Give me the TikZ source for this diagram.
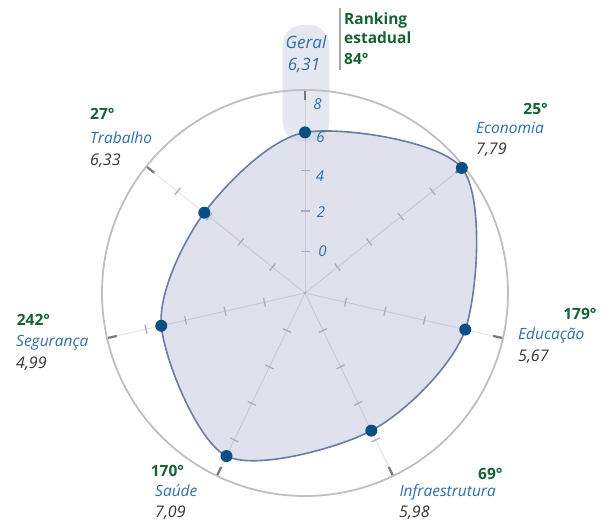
\documentclass[tikz,border=0pt]{standalone}
\usepackage{fontspec}
\setmainfont{Open Sans}
\definecolor{catblue}{RGB}{47,110,168}
\definecolor{valgrey}{RGB}{51,51,51}
\definecolor{rankgreen}{RGB}{22,98,52}
\definecolor{dotblue}{RGB}{10,79,134}
\definecolor{areafill}{RGB}{223,225,237}
\definecolor{areadraw}{RGB}{105,124,163}
\definecolor{markblue}{RGB}{165,172,200}
\definecolor{boxfill}{RGB}{205,209,227}
\definecolor{bargrey}{RGB}{160,172,160}
\begin{document}
\begin{tikzpicture}[x=1pt,y=1pt]
    \tikzstyle{every node}+=[inner sep=0pt]
    \tikzstyle{cat}=[font=\fontsize{15.5}{18}\selectfont\itshape, text=catblue, anchor=base west]
    \tikzstyle{val}=[font=\fontsize{16}{18}\selectfont\itshape, text=valgrey, anchor=base west]
    \tikzstyle{rank}=[font=\fontsize{15.5}{18}\selectfont\bfseries, text=rankgreen, anchor=base west]
    \tikzstyle{scalelbl}=[font=\fontsize{15}{18}\selectfont\itshape, text=catblue]
    \tikzstyle{dot}=[circle, fill=dotblue, minimum size=12pt]
    \useasboundingbox (-305,-229) rectangle (305,293);
    \coordinate (o) at (0,0);
    % data points
    \coordinate (geral) at (90:160.6);
    \coordinate (econ) at (38.571:200.6);
    \coordinate (educ) at (-12.857:164.4);
    \coordinate (infra) at (-64.286:152.8);
    \coordinate (saude) at (-115.714:181);
    \coordinate (seg) at (-167.143:147.4);
    \coordinate (trab) at (141.429:128.8);
    \fill [areafill] plot [smooth cycle] coordinates {(geral) (econ) (educ) (infra) (saude) (seg) (trab)};
    \fill [boxfill, opacity=0.5, rounded corners=20] (-22.3,151) rectangle (24.3,268);
    \foreach \a [count=\i] in {90,38.571,-12.857,-64.286,-115.714,-167.143,141.429} {
        \coordinate (ax\i) at (\a:203);
        \draw [black, opacity=0.1, line width=1] (o) -- (ax\i);
        \foreach \r in {41.6,82,122.5,163}
            \draw [markblue, line width=1.3, rotate=\a] (\r,-4.5) -- (\r,4.5);
        \draw [black!53, line width=2.2, rotate=\a] (193,0) -- (203,0);
    }
    \draw [black!25, line width=1.8] (o) circle (203);
    \draw [areadraw, line width=1.6] plot [smooth cycle] coordinates {(geral) (econ) (educ) (infra) (saude) (seg) (trab)};
    \node [dot] (d1) at (geral) {};
    \node [dot] (d2) at (econ) {};
    \node [dot] (d3) at (educ) {};
    \node [dot] (d4) at (infra) {};
    \node [dot] (d5) at (saude) {};
    \node [dot] (d6) at (seg) {};
    \node [dot] (d7) at (trab) {};
    % scale
    \node [scalelbl] (s8) at (12.5,189.3) {8};
    \node [scalelbl] (s6) at (15.5,156) {6};
    \node [scalelbl] (s4) at (15,116.7) {4};
    \node [scalelbl] (s2) at (16,80.8) {2};
    \node [scalelbl] (s0) at (17.5,41.8) {0};
    % geral
    \node [cat, anchor=base, font=\fontsize{17}{18}\selectfont\itshape] (geralname) at (1,244.7) {Geral};
    \node [cat, anchor=base, font=\fontsize{17}{18}\selectfont\itshape] (geralval) at (-1,222.3) {6,31};
    \coordinate (bar1) at (35,285);
    \coordinate (bar2) at (35,223);
    \draw [bargrey, line width=1.5] (bar1) -- (bar2);
    \node [rank] (rk1) at (39,268) {Ranking};
    \node [rank] (rk2) at (39,249.7) {estadual};
    \node [rank] (rk3) at (39,228) {84°};
    % economia
    \node [rank, anchor=base east] (econrank) at (243,178.3) {25°};
    \node [cat] (econname) at (171,159) {Economia};
    \node [val] (econval) at (171,138) {7,79};
    % trabalho
    \node [rank] (trabrank) at (-215,173.7) {27°};
    \node [cat] (trabname) at (-215,149.7) {Trabalho};
    \node [val] (trabval) at (-215,127) {6,33};
    % seguranca
    \node [rank] (segrank) at (-288.3,-32) {242°};
    \node [cat] (segname) at (-289,-53.7) {Segurança};
    \node [val] (segval) at (-289,-75) {4,99};
    % educacao
    \node [rank, anchor=base east] (educrank) at (291.7,-26.3) {179°};
    \node [cat] (educname) at (213,-46.3) {Educação};
    \node [val] (educval) at (213,-68.7) {5,67};
    % infraestrutura
    \node [rank, anchor=base east] (infrarank) at (197.7,-186.3) {69°};
    \node [cat] (infraname) at (94.3,-203.7) {Infraestrutura};
    \node [val] (infraval) at (94,-224.3) {5,98};
    % saude
    \node [rank] (sauderank) at (-154.3,-183.7) {170°};
    \node [cat] (saudename) at (-150,-203.7) {Saúde};
    \node [val] (saudeval) at (-150,-224.3) {7,09};
\end{tikzpicture}
\end{document}
